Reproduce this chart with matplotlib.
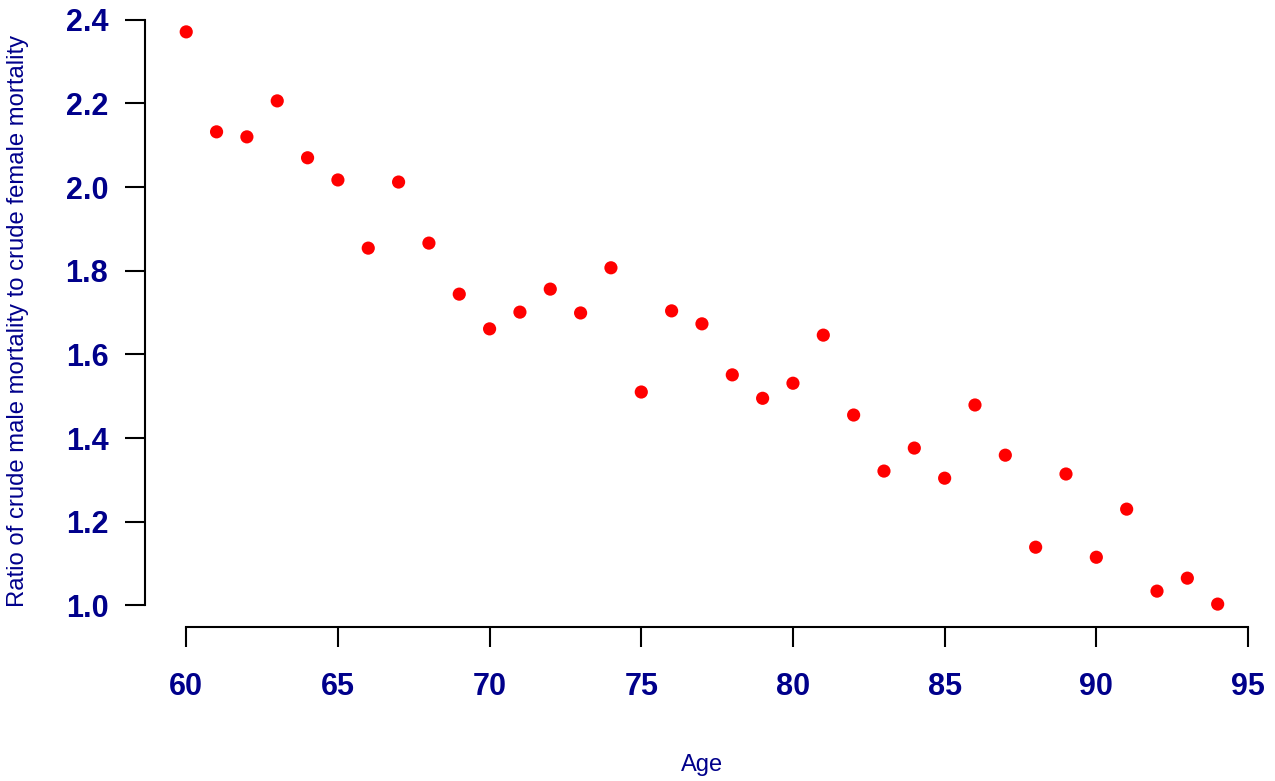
import numpy as np
import matplotlib
matplotlib.use("Agg")
import matplotlib.pyplot as plt

# age and male/female crude mortality ratio
ages = list(range(60, 95))
ratio = [2.371, 2.132, 2.120, 2.206, 2.070, 2.017, 1.854, 2.012, 1.866, 1.744,
         1.661, 1.701, 1.756, 1.699, 1.807, 1.510, 1.704, 1.673, 1.551, 1.495,
         1.531, 1.646, 1.455, 1.321, 1.376, 1.304, 1.479, 1.359, 1.139, 1.314,
         1.115, 1.230, 1.034, 1.065, 1.003]
xticks = [60, 65, 70, 75, 80, 85, 90, 95]
yticks = [1.0, 1.2, 1.4, 1.6, 1.8, 2.0, 2.2, 2.4]

NAVY = "#00008B"
plt.rcParams["font.family"] = ["Liberation Sans", "DejaVu Sans"]

fig = plt.figure(figsize=(12.75, 7.81), dpi=100)
ax = fig.add_axes([0.1137, 0.1972, 0.8737, 0.7913])

ax.scatter(ages, ratio, s=90, color="red", edgecolors="none", zorder=3)

# R-style 4% padding around the data range
x0, x1 = min(ages), max(ages)
y0, y1 = min(ratio), max(ratio)
dx, dy = 0.04 * (x1 - x0), 0.04 * (y1 - y0)
ax.set_xlim(x0 - dx, x1 + dx)
ax.set_ylim(y0 - dy, y1 + dy)

for side in ("top", "right"):
    ax.spines[side].set_visible(False)
ax.spines["left"].set_bounds(yticks[0], yticks[-1])
ax.spines["bottom"].set_bounds(xticks[0], xticks[-1])
for side in ("left", "bottom"):
    ax.spines[side].set_linewidth(1.5)

ax.set_xticks(xticks)
ax.set_yticks(yticks)
ax.set_yticklabels([f"{v:.1f}" for v in yticks])
ax.tick_params(axis="both", direction="out", length=14.4, width=1.5,
               labelsize=22, labelcolor=NAVY)
ax.tick_params(axis="y", pad=12)
ax.tick_params(axis="x", pad=18)
for lbl in ax.get_xticklabels() + ax.get_yticklabels():
    lbl.set_fontweight("bold")

ax.set_xlabel("Age", fontsize=17, color=NAVY)
ax.set_ylabel("Ratio of crude male mortality to crude female mortality",
              fontsize=17.2, color=NAVY)
ax.xaxis.set_label_coords(0.5, -0.206)
ax.yaxis.set_label_coords(-0.104, 0.496)

fig.savefig("out.png", dpi=100, facecolor="white")
